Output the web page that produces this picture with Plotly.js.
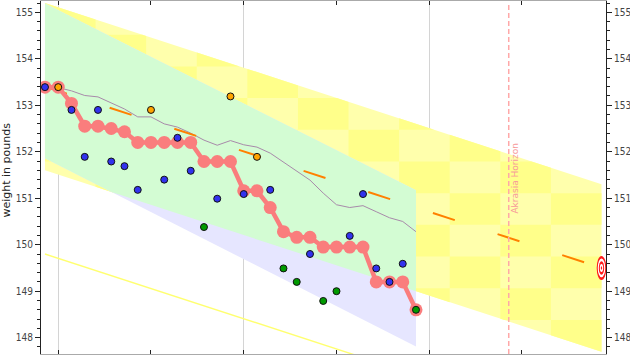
<!DOCTYPE html>
<html>
<head>
<meta charset="utf-8">
<script src="https://cdn.plot.ly/plotly-3.0.1.min.js"></script>
<style>html,body{margin:0;padding:0;background:#fff;}#chart{width:630px;height:355px;}</style>
</head>
<body>
<div id="chart"></div>
<script>
// ---- data ----
const days = [0,1,2,3,4,5,6,7,8,9,10,11,12,13,14,15,16,17,18,19,20,21,22,23,24,25,26,27,28];
const aggVals = [153.39,153.39,153.04,152.55,152.55,152.50,152.43,152.20,152.20,152.20,152.20,152.20,151.79,151.79,151.79,151.16,151.16,150.80,150.28,150.16,150.16,149.95,149.95,149.95,149.95,149.20,149.20,149.20,148.60];
const rawVals = [153.39,153.39,152.90,151.89,152.90,151.79,151.69,151.18,152.90,151.40,152.30,151.59,150.38,150.99,153.19,151.09,151.89,151.18,149.49,149.20,149.80,148.79,149.00,150.19,151.09,149.49,149.20,149.59,148.60];
const rawColors = ['blue','orange','blue','blue','blue','blue','blue','blue','orange','blue','blue','blue','green','blue','orange','blue','orange','blue','green','green','blue','green','green','blue','blue','blue','blue','blue','green'];
const avgVals = [153.39,153.38,153.31,153.21,153.18,153.05,152.92,152.75,152.75,152.60,152.53,152.40,152.25,152.14,152.24,152.15,152.10,151.97,151.78,151.59,151.39,151.11,150.86,150.80,150.84,150.71,150.58,150.50,150.28];
const roadDays = [0, 42];
const roadVals = [153.4, 149.5];
const laneWidth = 1.8;
const auraDays = [0, 28];
const auraTop = [155.19, 151.17];
const auraBot = [151.86, 147.81];
const horizonDay = 35;
const checkerCount = 11;
const yTickVals = [148,149,150,151,152,153,154,155];

// ---- style ----
const dotColor = {blue:'#3232ee', orange:'#ffa500', green:'#009a00'};
const font = 'DejaVu Sans Condensed, DejaVu Sans, sans-serif';

// ---- geometry helpers (data space) ----
const slope = (roadVals[1]-roadVals[0])/(roadDays[1]-roadDays[0]);
const icpt = roadVals[0] - slope*roadDays[0];
function clip(poly, a, b, keepAbove){
  const f = p => (p[1] - (a + b*p[0])) * (keepAbove ? 1 : -1);
  const out = [];
  for (let i=0;i<poly.length;i++){
    const cur = poly[i], prev = poly[(i-1+poly.length)%poly.length];
    const fc = f(cur), fp = f(prev);
    const inter = () => { const t = fp/(fp-fc); return [prev[0]+t*(cur[0]-prev[0]), prev[1]+t*(cur[1]-prev[1])]; };
    if (fc >= 0){ if (fp < 0) out.push(inter()); out.push(cur); }
    else if (fp >= 0) out.push(inter());
  }
  return out;
}
function inBand(poly){
  return clip(clip(poly, icpt+laneWidth, slope, false), icpt-laneWidth, slope, true);
}
function toXY(polys){
  const x=[], y=[];
  polys.forEach(p=>{ if(p.length<3) return; p.forEach(q=>{x.push(q[0]); y.push(q[1]);}); x.push(p[0][0]); y.push(p[0][1]); x.push(null); y.push(null); });
  return {x, y};
}

const band = [[roadDays[0], roadVals[0]+laneWidth],[roadDays[1], roadVals[1]+laneWidth],[roadDays[1], roadVals[1]-laneWidth],[roadDays[0], roadVals[0]-laneWidth]];
const bTop = roadVals[0]+laneWidth, bBot = roadVals[1]-laneWidth;
const cw = (roadDays[1]-roadDays[0])/checkerCount, ch = (bTop-bBot)/checkerCount;
const darkCells = [];
for (let c=0;c<checkerCount;c++) for (let r=0;r<checkerCount;r++){
  if ((r+c)%2) continue;
  const x0 = roadDays[0]+c*cw, x1 = x0+cw, y0 = bTop-r*ch, y1 = y0-ch;
  darkCells.push(inBand([[x0,y0],[x1,y0],[x1,y1],[x0,y1]]));
}
const aura = [[auraDays[0],auraTop[0]],[auraDays[1],auraTop[1]],[auraDays[1],auraBot[1]],[auraDays[0],auraBot[0]]];
const greenPoly = inBand(aura);

const bandXY = toXY([band]);
const darkXY = toXY(darkCells);
const auraXY = toXY([aura]);
const greenXY = toXY([greenPoly]);

const traces = [
  {x:bandXY.x, y:bandXY.y, type:'scatter', mode:'lines', fill:'toself', fillcolor:'#ffffac', line:{width:0}, hoverinfo:'skip'},
  {x:darkXY.x, y:darkXY.y, type:'scatter', mode:'lines', fill:'toself', fillcolor:'#ffff8a', line:{width:0}, hoverinfo:'skip'},
  {x:auraXY.x, y:auraXY.y, type:'scatter', mode:'lines', fill:'toself', fillcolor:'#e6e6ff', line:{width:0}, hoverinfo:'skip'},
  {x:greenXY.x, y:greenXY.y, type:'scatter', mode:'lines', fill:'toself', fillcolor:'#d3fcd3', line:{width:0}, hoverinfo:'skip'},
  {x:roadDays, y:roadVals.map(v=>v-2*laneWidth), type:'scatter', mode:'lines', line:{color:'#ffff70', width:1.4}},
  {x:days, y:avgVals, type:'scatter', mode:'lines', line:{color:'#a88aaa', width:1}},
  {x:roadDays, y:roadVals, type:'scatter', mode:'lines', line:{color:'#ff8000', width:2, dash:'23px,45px'}},
  {x:days, y:aggVals, type:'scatter', mode:'lines+markers', line:{color:'#fa7d7d', width:4.5}, marker:{color:'#fa7d7d', size:13}},
  {x:days, y:rawVals, type:'scatter', mode:'markers', marker:{color:rawColors.map(c=>dotColor[c]), size:7, line:{color:'#111', width:1}}},
  {x:[roadDays[1]], y:[roadVals[1]], type:'scatter', mode:'markers', yaxis:'y2', marker:{size:1, opacity:0}, hoverinfo:'skip'}
];

const goalX = roadDays[1], goalY = roadVals[1];
const rings = [[1,'#ff1a1a'],[0.78,'#ffffff'],[0.56,'#ff1a1a'],[0.34,'#ffffff'],[0.14,'#ff1a1a']];
const shapes = [
  {type:'line', xref:'x', yref:'paper', x0:horizonDay, x1:horizonDay, y0:0, y1:0.99, line:{color:'#ffa8a8', width:1.5, dash:'5px,3px'}, layer:'above'}
];
rings.forEach(([s,c])=>shapes.push({type:'circle', xref:'x', yref:'y', xsizemode:'pixel', ysizemode:'pixel', xanchor:goalX, yanchor:goalY, x0:-4.8*s, x1:4.8*s, y0:-12*s, y1:12*s, fillcolor:c, line:{width:0}, layer:'above'}));

const yCommon = {range:[147.649,155.243], tickvals:yTickVals, ticks:'outside', ticklen:5, tickcolor:'#222', showline:true, linecolor:'#222', linewidth:1, showgrid:false, zeroline:false,
  tickfont:{family:font, size:10, color:'#444'}, minor:{dtick:0.2, tick0:148, ticks:'outside', ticklen:3, tickcolor:'#222', showgrid:false}};

const layout = {
  width:630, height:355, margin:{l:41, r:24, t:1, b:1}, paper_bgcolor:'#fff', plot_bgcolor:'#fff', showlegend:false,
  xaxis:{range:[-0.30,42.34], showline:true, linecolor:'#aaa', linewidth:1, mirror:'ticks', ticks:'inside', ticklen:4, tickcolor:'#222', tick0:1, dtick:14,
    showgrid:true, gridcolor:'#d4d4d4', gridwidth:1.3, showticklabels:false, zeroline:false,
    minor:{tick0:1, dtick:7, ticks:'inside', ticklen:4, tickcolor:'#222', showgrid:false}},
  yaxis:Object.assign({}, yCommon),
  yaxis2:Object.assign({}, yCommon, {overlaying:'y', side:'right', anchor:'x'}),
  shapes:shapes,
  annotations:[
    {text:'weight in pounds', xref:'paper', yref:'paper', x:0, y:0.521, xshift:-34.5, xanchor:'center', yanchor:'middle', textangle:-90, showarrow:false, font:{family:'DejaVu Sans, sans-serif', size:11, color:'#222'}},
    {text:'Akrasia Horizon', xref:'x', yref:'paper', x:horizonDay, y:0.499, xshift:6, xanchor:'center', yanchor:'middle', textangle:-90, showarrow:false, font:{family:'DejaVu Sans, sans-serif', size:9, color:'#f79a9a'}}
  ]
};
Plotly.newPlot('chart', traces, layout, {staticPlot:true, displayModeBar:false});
</script>
</body>
</html>
